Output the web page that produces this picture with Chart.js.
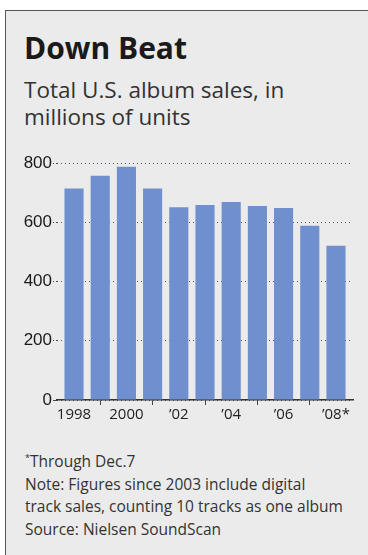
<!DOCTYPE html>
<html>
<head>
<meta charset="utf-8">
<script src="https://cdn.jsdelivr.net/npm/chart.js@4/dist/chart.umd.min.js"></script>
<style>
  html, body { margin: 0; padding: 0; background: #fff; }
  #frame {
    position: absolute; left: 5px; top: 10px; width: 363px; height: 545px;
    background: #ebebeb; border-top: 1px solid #555; border-left: 1px solid #555;
    box-sizing: border-box;
  }
  .txt { position: absolute; font-family: "Open Sans", sans-serif; color: #222; white-space: nowrap; }
  #title { left: 24px; top: 27px; font-size: 30px; line-height: normal; font-weight: bold; color: #1a1a1a; }
  #sub { left: 24px; top: 76px; font-size: 22.5px; line-height: 27px; color: #333; }
  #notes { left: 25px; top: 447px; font-size: 15.5px; line-height: 22.5px; color: #333; }
  #notes sup { font-size: 9px; vertical-align: 6px; }
  #chartBox { position: absolute; left: 0; top: 0; width: 368px; height: 555px; }
</style>
</head>
<body>
<div id="frame"></div>
<div class="txt" id="title">Down Beat</div>
<div class="txt" id="sub">Total U.S. album sales, in<br>millions of units</div>
<div class="txt" id="notes"><sup>*</sup>Through Dec.7<br>Note: Figures since 2003 include digital<br>track sales, counting 10 tracks as one album<br>Source: Nielsen SoundScan</div>
<div id="chartBox"><canvas id="chart"></canvas></div>
<script>
// Data
let years = [1998, 1999, 2000, 2001, 2002, 2003, 2004, 2005, 2006, 2007, 2008];
let sales = [714, 757, 787, 714, 651, 658, 668, 655, 648, 588, 521];
let yearLabels = ["1998", "", "2000", "", "\u201902", "", "\u201904", "", "\u201906", "", "\u201908*"];
let yTicks = [0, 200, 400, 600, 800];

let ctx = document.getElementById('chart').getContext('2d');
let chart = new Chart(ctx, {
    type: 'bar',
    data: {
        datasets: [{
            data: years.map((y, i) => ({x: y, y: sales[i]})),
            backgroundColor: '#6f8fcf',
            categoryPercentage: 1,
            barPercentage: 0.73
        }]
    },
    options: {
        responsive: true,
        maintainAspectRatio: false,
        animation: false,
        layout: { padding: {left: 0, right: 15, top: 163, bottom: 131} },
        plugins: { legend: {display: false}, tooltip: {enabled: false} },
        scales: {
            x: {
                type: 'linear',
                offset: false,
                min: years[0] - 0.65,
                max: years[years.length - 1] + 0.65,
                afterBuildTicks: (scale) => { scale.ticks = years.map(v => ({value: v})); },
                afterFit: (scale) => { scale.height = 24; },
                grid: {
                    drawOnChartArea: false,
                    offset: false,
                    tickLength: 5,
                    tickColor: (c) => (c.index % 2 === 1 ? '#444' : 'rgba(0,0,0,0)')
                },
                border: { display: true, color: '#333', width: 1.5 },
                ticks: {
                    autoSkip: false,
                    maxRotation: 0,
                    padding: 1,
                    color: '#222',
                    font: {family: 'Open Sans', size: 15},
                    callback: (v) => yearLabels[years.indexOf(v)]
                }
            },
            y: {
                min: 0,
                max: 800,
                afterBuildTicks: (scale) => { scale.ticks = yTicks.map(v => ({value: v})); },
                afterFit: (scale) => { scale.width = 57; },
                grid: {
                    color: '#555',
                    lineWidth: 1,
                    tickLength: 4,
                    tickColor: '#444',
                    tickBorderDash: (c) => (c.tick && c.tick.value === 0 ? [] : [1, 2])
                },
                border: { display: false, dash: [1, 3] },
                ticks: {
                    padding: 1,
                    color: '#1a1a1a',
                    font: {family: 'Liberation Sans', size: 17}
                }
            }
        }
    }
});
</script>
</body>
</html>
